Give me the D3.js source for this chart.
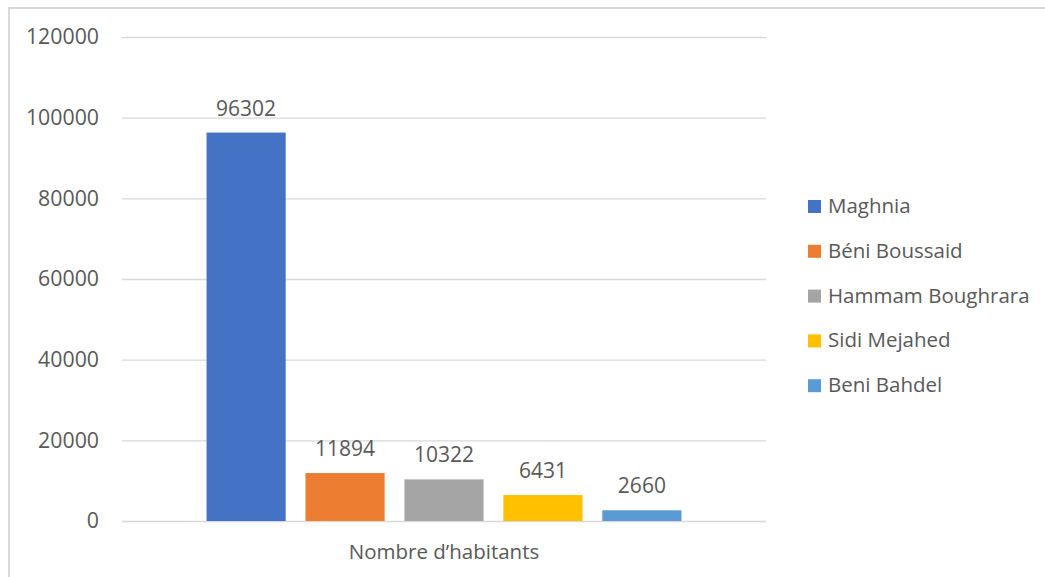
<!DOCTYPE html>
<html>
<head>
<meta charset="utf-8">
<script src="https://cdn.jsdelivr.net/npm/d3@7"></script>
<style>
  html, body { margin: 0; padding: 0; background: #fff; }
  svg { display: block; }
  text { font-family: "Open Sans", "Noto Sans", sans-serif; fill: #595959; }
</style>
</head>
<body>
<script>
// Population by commune
const category = "Nombre d’habitants";
const communes = ["Maghnia", "Béni Boussaid", "Hammam Boughrara", "Sidi Mejahed", "Beni Bahdel"];
const habitants = [96302, 11894, 10322, 6431, 2660];
const colors = ["#4472C4", "#ED7D31", "#A5A5A5", "#FFC000", "#5B9BD5"];
const yTicks = [0, 20000, 40000, 60000, 80000, 100000, 120000];

const W = 1045, H = 577;
const plot = { left: 122, right: 766, top: 37, bottom: 521 };

const svg = d3.select("body").append("svg").attr("width", W).attr("height", H);

// Outer frame (top and left edges visible)
svg.append("path")
  .attr("d", `M9,${H} L9,8 L${W},8`)
  .attr("fill", "none").attr("stroke", "#d9d9d9").attr("stroke-width", 2);

const y = d3.scaleLinear().domain([0, 120000]).range([plot.bottom, plot.top]);
const x0 = d3.scaleBand().domain([category]).range([plot.left, plot.right]).paddingInner(0).paddingOuter(0.178);
const x1 = d3.scaleBand().domain(communes).range([0, x0.bandwidth()]).paddingInner(0.2);

// Gridlines and tick labels
const yAxis = d3.axisLeft(y).tickValues(yTicks).tickSize(-(plot.right - plot.left)).tickPadding(23).tickFormat(d3.format("d"));
const gy = svg.append("g").attr("transform", `translate(${plot.left},0)`).call(yAxis);
gy.select(".domain").remove();
gy.selectAll(".tick line").attr("stroke", "#d9d9d9").attr("stroke-width", 1.3);
gy.selectAll(".tick text").attr("font-size", 21.3).style("fill", "#595959").attr("font-family", "'Open Sans', sans-serif");

// Bars
const g = svg.append("g").attr("transform", `translate(${x0(category)},0)`);
g.selectAll("rect").data(communes).join("rect")
  .attr("x", d => x1(d))
  .attr("y", (d, i) => y(habitants[i]))
  .attr("width", x1.bandwidth())
  .attr("height", (d, i) => y(0) - y(habitants[i]))
  .attr("fill", (d, i) => colors[i]);

// Value labels
g.selectAll("text.val").data(communes).join("text")
  .attr("class", "val")
  .attr("x", d => x1(d) + x1.bandwidth() / 2)
  .attr("y", (d, i) => y(habitants[i]) - 17)
  .attr("text-anchor", "middle")
  .attr("font-size", 21)
  .text((d, i) => habitants[i]);

// Category label
svg.append("text")
  .attr("x", x0(category) + x0.bandwidth() / 2)
  .attr("y", 559)
  .attr("text-anchor", "middle")
  .attr("font-size", 20.5)
  .text(category);

// Legend
const legend = svg.append("g").attr("transform", "translate(808,206)");
const items = legend.selectAll("g").data(communes).join("g")
  .attr("transform", (d, i) => `translate(0,${i * 44.8})`);
items.append("rect").attr("x", 0).attr("y", -6).attr("width", 13).attr("height", 13)
  .attr("fill", (d, i) => colors[i]);
items.append("text").attr("x", 20).attr("y", 7).attr("font-size", 20.5).text(d => d);
</script>
</body>
</html>
